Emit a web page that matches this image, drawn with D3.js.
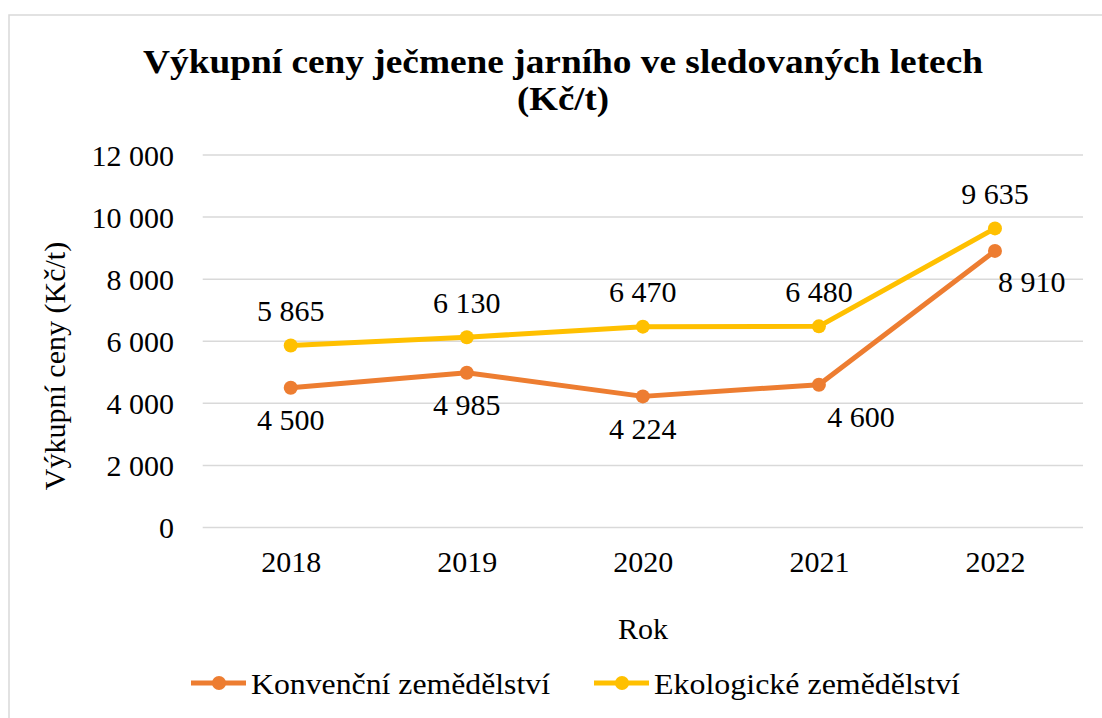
<!DOCTYPE html>
<html>
<head>
<meta charset="utf-8">
<script src="https://cdn.jsdelivr.net/npm/d3@7"></script>
</head>
<body style="margin:0">
<svg id="chart" width="1102" height="718"></svg>
<script>
const years = ["2018", "2019", "2020", "2021", "2022"];
const konvencni = [4500, 4985, 4224, 4600, 8910];
const ekologicke = [5865, 6130, 6470, 6480, 9635];
const konvencniLabelPos = ["below", "below", "below", "belowRight", "right"];
const ekologickeLabelPos = ["above", "above", "above", "above", "above"];
const yTicks = [0, 2000, 4000, 6000, 8000, 10000, 12000];
const seriesNames = ["Konvenční zemědělství", "Ekologické zemědělství"];
const titleLines = ["Výkupní ceny ječmene jarního ve sledovaných letech", "(Kč/t)"];
const xTitle = "Rok";
const yTitle = "Výkupní ceny (Kč/t)";

const colors = ["#ED7D31", "#FFC000"];
const FS = 30;
const svg = d3.select("#chart");

function serif(sel) {
  return sel.attr("font-family", "Liberation Serif");
}

svg.append("rect").attr("x", 9).attr("y", 15).attr("width", 1122).attr("height", 738)
  .attr("fill", "#fff").attr("stroke", "#d9d9d9").attr("stroke-width", 1.5);

const x = d3.scalePoint().domain(years).range([202.7, 1083]).padding(0.5);
const y = d3.scaleLinear().domain([0, 12000]).range([527.5, 155]);

const fmt = v => d3.format(",")(v).replace(/,/g, " ");

const titleWidths = [840, 92];
serif(svg.append("g").selectAll("text").data(titleLines).join("text")
  .attr("x", 563).attr("y", (d, i) => 73 + i * 37)
  .attr("text-anchor", "middle")
  .attr("font-weight", "bold").attr("font-size", 33)
  .attr("textLength", (d, i) => titleWidths[i]).attr("lengthAdjust", "spacingAndGlyphs"))
  .text(d => d);

svg.append("g").selectAll("line").data(yTicks).join("line")
  .attr("x1", 202.7).attr("x2", 1083)
  .attr("y1", d => y(d)).attr("y2", d => y(d))
  .attr("stroke", "#d9d9d9").attr("stroke-width", 1.5);

const yAxis = d3.axisLeft(y).tickValues(yTicks).tickFormat(fmt).tickSize(0).tickPadding(0);
const gy = svg.append("g").attr("transform", "translate(174,0)").call(yAxis);
serif(gy).attr("font-size", FS);
gy.select(".domain").remove();
serif(gy.selectAll("text")).attr("font-size", FS).attr("fill", "#000").attr("dy", "0.34em");

const xAxis = d3.axisBottom(x).tickSize(0).tickPadding(0);
const gx = svg.append("g").attr("transform", "translate(0,551)").call(xAxis);
serif(gx).attr("font-size", FS);
gx.select(".domain").remove();
serif(gx.selectAll("text")).attr("font-size", FS).attr("fill", "#000").attr("dy", "0.71em");

serif(svg.append("text").attr("x", 643).attr("y", 639).attr("text-anchor", "middle")
  .attr("font-size", FS)).text(xTitle);
serif(svg.append("text").attr("transform", "translate(65,366) rotate(-90)").attr("text-anchor", "middle")
  .attr("font-size", FS)).text(yTitle);

const series = [
  { name: seriesNames[0], values: konvencni, pos: konvencniLabelPos, color: colors[0], legendW: 299 },
  { name: seriesNames[1], values: ekologicke, pos: ekologickeLabelPos, color: colors[1], legendW: 306 }
];
const line = d3.line().x((d, i) => x(years[i])).y(d => y(d));

series.forEach(s => {
  const g = svg.append("g");
  g.append("path").attr("d", line(s.values)).attr("fill", "none")
    .attr("stroke", s.color).attr("stroke-width", 5).attr("stroke-linejoin", "round");
  g.selectAll("circle").data(s.values).join("circle")
    .attr("cx", (d, i) => x(years[i])).attr("cy", d => y(d)).attr("r", 7)
    .attr("fill", s.color);
  serif(g.selectAll("text").data(s.values).join("text")
    .attr("x", (d, i) => {
      const p = s.pos[i], cx = x(years[i]);
      if (p === "right") return cx + 3;
      if (p === "belowRight") return cx + 42;
      return cx;
    })
    .attr("y", (d, i) => {
      const p = s.pos[i], cy = y(d);
      if (p === "above") return cy - 35;
      if (p === "right") return cy + 31;
      return cy + 32;
    })
    .attr("dy", "0.35em")
    .attr("text-anchor", (d, i) => s.pos[i] === "right" ? "start" : "middle")
    .attr("font-size", FS).attr("fill", "#000"))
    .text(d => fmt(d));
});

const legendX = [191, 594];
const lg = svg.append("g").selectAll("g").data(series).join("g")
  .attr("transform", (d, i) => `translate(${legendX[i]},683)`);
lg.append("line").attr("x1", 0).attr("x2", 55).attr("y1", 0).attr("y2", 0)
  .attr("stroke", d => d.color).attr("stroke-width", 5);
lg.append("circle").attr("cx", 28).attr("cy", 0).attr("r", 7).attr("fill", d => d.color);
serif(lg.append("text").attr("x", 60).attr("y", 0).attr("dy", "0.35em")
  .attr("font-size", FS).attr("fill", "#000")
  .attr("textLength", d => d.legendW).attr("lengthAdjust", "spacingAndGlyphs")).text(d => d.name);
</script>
</body>
</html>
